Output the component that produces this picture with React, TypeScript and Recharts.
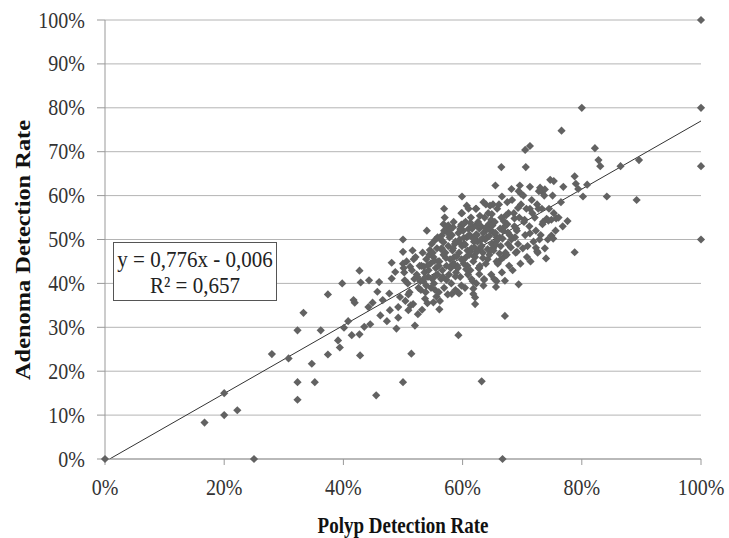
import React from 'react'
import { ScatterChart, Scatter, XAxis, YAxis, CartesianGrid, ReferenceLine } from 'recharts'

// Polyp detection rate (x, %) vs adenoma detection rate (y, %), one pair per endoscopist
const sparseLow: [number, number][] = [
  [0, 0], [16.7, 8.3], [20, 10], [22.2, 11.1], [20, 15], [25, 0], [28, 23.9], [30.8, 22.9],
  [32.3, 17.5], [32.3, 13.5], [32.3, 29.3], [33.3, 33.3], [34.7, 21.7], [35.2, 17.5], [36.2, 29.3],
  [37.4, 37.5], [37.4, 23.8], [39.1, 27], [39.4, 25.4], [39.8, 40], [40.1, 29.9], [40.8, 31.4],
  [41.4, 28.2], [41.7, 36.2], [41.9, 35.6], [42.7, 42.9], [42.9, 40.2], [42.7, 28.4], [42.8, 23.6],
  [43.5, 30.1], [44.3, 40.7], [44.5, 30.7], [44.2, 34.6], [44.9, 35.6], [45.5, 14.5], [45.7, 38.1],
  [46, 40.3], [46.2, 32.7], [46.6, 36.2], [47.3, 31.4], [47.7, 37.7], [47.8, 33.9], [48.1, 44.7],
  [48.1, 41.1], [48.7, 42.6], [48.9, 29.7], [49.2, 32.2], [49.2, 34.6], [49.5, 36.9], [50, 50],
  [50, 47.2], [50, 44.5], [50, 17.5], [50.3, 40.7], [50.9, 33.9], [51.2, 43.8], [51.4, 24],
  [52, 30.4], [63.2, 17.7], [66.7, 0], [59.3, 28.2], [51.7, 35.3], [56.1, 34.1], [55.1, 35.7],
  [62.1, 35.3], [61.8, 37.6], [63.5, 39.5], [65.6, 39.2], [58.2, 37.6], [59.4, 37.7], [62.8, 42.1],
]

const sparseHigh: [number, number][] = [
  [100, 100], [100, 80], [80, 80], [76.6, 74.8], [70.5, 70.4], [71.3, 71.3], [82.2, 70.8],
  [82.8, 68.1], [83.1, 66.7], [86.5, 66.7], [89.6, 68.1], [100, 66.7], [66.5, 66.5], [70.6, 66.5],
  [65.5, 62.3], [68.2, 61.5], [69.6, 62.3], [69.8, 60.4], [73, 61.8], [73.3, 60.9], [73.8, 61.4],
  [74.7, 63.6], [75.3, 63.3], [78.8, 64.4], [79, 62.7], [79.4, 61.5], [80.9, 62.5], [80.2, 59.8],
  [84.2, 59.8], [89.2, 59], [59.9, 59.8], [60.7, 57.7], [62.3, 57], [63.5, 58.5], [65.1, 58],
  [66.6, 59.8], [67.5, 58.5], [71.3, 57], [72.7, 57], [74.1, 54.7], [74.4, 54.3], [75.7, 54.8],
  [77.6, 54.2], [74.9, 50.9], [75.2, 50.2], [78.8, 47.1], [100, 50], [72.3, 48.1], [72.5, 47.3],
  [74, 45.7], [71.3, 51.4], [69.1, 47.2], [66.3, 45.3], [62.8, 43.5], [63.6, 40.8], [65.7, 40.5],
  [67.1, 40.6], [69.4, 39.8], [61.8, 38.8], [62.1, 36.8], [67.1, 32.6],
  [56.9, 57], [59.8, 56], [64.6, 57.7], [64.9, 55.8], [56.8, 53.5], [57.6, 53.2], [58.4, 52.8],
  [59.8, 53.4], [55.4, 49.9], [56.5, 50.9], [61, 52.4], [62.4, 53.5], [64, 52.8], [65.2, 51.6],
  [65.7, 50.5],
]

const cluster50: [number, number][] = [
  [50.4, 36], [51.1, 38], [52.6, 39], [50.8, 40], [51.9, 41], [52.3, 42], [50.2, 42.5], [51.5, 43],
  [52.8, 44], [50.6, 45], [51.8, 45.5], [52.1, 46], [53.0, 38.5], [51.3, 35], [52.5, 33], [50.9, 37.5],
  [52.9, 40.5], [51.6, 47.5], [50.1, 43.5], [52.4, 41.5],
  [53.2, 34], [54.1, 35.5], [55.6, 37], [53.8, 38], [54.7, 39], [55.2, 40], [53.4, 40.5], [54.9, 41],
  [55.8, 42], [53.6, 42.5], [54.3, 43], [55.5, 43.5], [53.1, 44], [54.6, 44.5], [55.9, 45], [53.9, 45.5],
  [55.1, 46], [54.4, 46.5], [53.3, 47], [55.7, 48], [54.8, 49], [53.7, 36.5], [55.4, 38.5], [54.2, 41.5],
  [53.5, 43.8], [55.3, 45.2], [54.5, 47.6], [55.8, 50.5], [54.0, 52], [53.9, 39.5],
  [56.2, 36], [57.5, 37.5], [58.8, 38.5], [56.9, 39], [58.1, 40], [56.4, 41], [57.7, 42], [58.9, 42.5],
  [56.6, 43], [57.3, 44], [58.4, 44.5], [56.1, 45], [57.9, 45.5], [58.6, 46], [56.8, 46.5], [57.1, 47],
  [58.3, 47.5], [56.5, 48], [57.6, 48.5], [58.7, 49], [56.3, 50], [57.8, 50.5], [58.2, 51], [56.9, 52],
  [57.4, 53], [58.5, 54], [57.0, 55], [56.7, 41.5], [58.0, 43.5], [57.2, 45.8], [56.4, 47.8], [58.8, 49.5],
  [57.5, 51.5], [56.0, 38], [58.6, 44.2],
  [54.2, 44.2], [55.0, 47.0], [56.0, 44.0], [56.8, 49.4], [57.9, 52.2], [58.4, 48.0], [53.6, 41.2],
  [55.5, 41.8], [57.3, 40.8], [58.8, 41.6],
]

const cluster60: [number, number][] = [
  [59.2, 38], [60.4, 39], [61.7, 40.5], [59.6, 41.5], [60.9, 42], [61.3, 43], [59.1, 44], [60.2, 44.5],
  [61.8, 45], [59.8, 45.5], [60.6, 46], [61.1, 46.5], [59.4, 47], [60.8, 47.5], [61.5, 48], [59.9, 48.5],
  [60.3, 49], [61.9, 49.5], [59.5, 50], [60.7, 50.5], [61.2, 51], [59.3, 51.5], [60.1, 52], [61.6, 52.5],
  [59.7, 53], [60.5, 54], [61.4, 55], [59.9, 56], [61.0, 57], [60.0, 45.2], [61.3, 47.2], [59.6, 49.2],
  [60.9, 50.8], [61.7, 52.8], [59.2, 43.5], [60.4, 48.8], [61.9, 46.2], [60.2, 53.6], [61.5, 41], [59.8, 39.5],
  [62.3, 40], [63.6, 41], [64.8, 42], [62.7, 43.5], [63.9, 44.5], [64.2, 45.5], [62.1, 46], [63.4, 47],
  [64.6, 47.5], [62.9, 48], [63.2, 48.5], [64.9, 49], [62.5, 49.5], [63.8, 50], [64.1, 50.5], [62.4, 51],
  [63.5, 51.5], [64.7, 52], [62.8, 52.5], [63.1, 53], [64.4, 53.5], [62.6, 54], [63.7, 55], [64.3, 56],
  [62.2, 57], [63.9, 58], [64.5, 46.5], [62.0, 48.2], [63.3, 50.2], [64.0, 52.2], [62.9, 44], [64.8, 54.5],
  [63.0, 49.8], [62.3, 51.2], [64.2, 47.8],
  [59.0, 46.2], [59.6, 52.4], [60.2, 50.4], [60.8, 44.0], [61.3, 53.8], [61.8, 50.2], [62.4, 47.2],
  [62.9, 55.4], [63.4, 45.8], [63.9, 52.6], [64.5, 50.8], [60.6, 43.2],
]

const cluster70: [number, number][] = [
  [65.3, 41], [66.6, 42.5], [67.8, 44], [65.7, 45], [66.9, 46], [67.2, 47], [65.1, 48], [66.4, 48.5],
  [67.6, 49], [65.9, 50], [66.2, 50.5], [67.9, 51], [65.5, 51.5], [66.8, 52], [67.1, 53], [65.4, 54],
  [66.5, 55], [67.7, 56], [65.8, 57], [66.1, 58], [67.4, 46.5], [65.6, 49.5], [66.3, 52.5], [67.5, 53.5],
  [65.2, 47.5], [66.7, 50.2], [67.3, 55.5], [65.9, 44.5],
  [65.0, 53.2], [65.6, 48.8], [66.2, 46.8], [66.9, 54.2], [67.6, 51.6],
  [68.4, 43], [69.7, 44.5], [70.8, 46], [68.9, 47], [70.1, 48], [69.3, 49], [68.2, 50], [70.5, 51],
  [69.1, 52], [68.7, 53], [70.3, 54], [69.5, 55], [68.6, 56], [70.7, 57], [69.8, 58], [68.3, 59],
  [70.2, 60], [69.4, 61], [68.8, 50.5], [70.9, 48.5], [69.0, 52.5], [70.4, 54.5],
  [68.1, 48.2], [68.7, 54.8], [69.3, 57.2],
  [71.4, 45], [72.6, 47], [73.8, 48], [71.9, 49.5], [73.1, 51], [72.3, 52], [71.2, 53], [73.5, 54],
  [72.1, 55], [71.7, 56], [73.3, 57], [72.5, 58], [71.6, 59], [73.7, 60], [72.8, 61], [71.3, 62],
  [72.9, 50], [73.4, 53.5],
  [74.3, 50], [75.6, 52], [76.8, 53], [74.9, 54.5], [76.1, 55], [75.3, 56], [74.5, 57], [76.5, 58.5],
  [75.1, 60], [76.9, 62],
]

const yTicks = [0, 10, 20, 30, 40, 50, 60, 70, 80, 90, 100]
const xTicks = [0, 20, 40, 60, 80, 100]

// linear trend: y = 0,776x - 0,006
const slope = 0.776
const intercept = -0.6

const points = [...sparseLow, ...sparseHigh, ...cluster50, ...cluster60, ...cluster70].map(([pdr, adr]) => ({ pdr, adr }))

const FONT = '"Liberation Serif", "Times New Roman", serif'
const STRETCH = 1.17 // source image text is tall and narrow

const Diamond = (props: any) => {
  const { cx, cy } = props
  const r = 4.1
  return (
    <polygon
      points={`${cx},${cy - r} ${cx + r},${cy} ${cx},${cy + r} ${cx - r},${cy}`}
      fill="#626262"
    />
  )
}

const YTick = (props: any) => {
  const { x, y, payload } = props
  return (
    <text
      transform={`translate(${x - 10}, ${y}) scale(1, ${STRETCH})`}
      textAnchor="end"
      dominantBaseline="central"
      fontFamily={FONT}
      fontSize={20}
      fill="#333"
    >
      {payload.value}%
    </text>
  )
}

const XTick = (props: any) => {
  const { x, y, payload } = props
  return (
    <text
      transform={`translate(${x}, ${y + 20}) scale(1, ${STRETCH})`}
      textAnchor="middle"
      dominantBaseline="central"
      fontFamily={FONT}
      fontSize={20}
      fill="#333"
    >
      {payload.value}%
    </text>
  )
}

const XTitle = (props: any) => {
  const vb = props.viewBox || { x: 105, width: 596 }
  const cx = vb.x + vb.width / 2
  return (
    <text
      transform={`translate(${cx}, 525) scale(1, 1.2)`}
      textAnchor="middle"
      dominantBaseline="central"
      fontFamily={FONT}
      fontWeight="bold"
      fontSize={19}
      fill="#111"
    >
      Polyp Detection Rate
    </text>
  )
}

const YTitle = () => (
  <text
    transform={`translate(23, 250) scale(1, 1.22) rotate(-90)`}
    textAnchor="middle"
    dominantBaseline="central"
    fontFamily={FONT}
    fontWeight="bold"
    fontSize={20}
    fill="#111"
  >
    Adenoma Detection Rate
  </text>
)

export default function App() {
  return (
    <div style={{ position: 'absolute', left: 0, top: 0, width: 729, height: 538, background: '#fff' }}>
      <ScatterChart width={729} height={538} margin={{ top: 20, right: 28, bottom: 0, left: 0 }}>
        <CartesianGrid horizontal vertical={false} stroke="#b4b4b4" />
        <XAxis
          type="number"
          dataKey="pdr"
          domain={[0, 100]}
          ticks={xTicks}
          height={79}
          tickSize={6}
          stroke="#999"
          tick={XTick}
          label={{ content: XTitle }}
        />
        <YAxis
          type="number"
          dataKey="adr"
          domain={[0, 100]}
          ticks={yTicks}
          width={105}
          tickSize={8}
          stroke="#999"
          tick={YTick}
          label={{ content: YTitle }}
        />
        <ReferenceLine
          segment={[
            { x: -intercept / slope, y: 0 },
            { x: 100, y: slope * 100 + intercept },
          ]}
          stroke="#333"
          strokeWidth={1}
        />
        <Scatter data={points} shape={Diamond} isAnimationActive={false} />
      </ScatterChart>
      <div
        style={{
          position: 'absolute',
          left: 113,
          top: 242,
          width: 164,
          height: 59,
          border: '1px solid #555',
          background: '#fff',
          fontFamily: FONT,
          fontSize: 21,
          color: '#222',
          textAlign: 'center',
          lineHeight: '26px',
          boxSizing: 'border-box',
          paddingTop: 3,
        }}
      >
        <div style={{ transform: 'scaleY(1.12)' }}>y = 0,776x - 0,006</div>
        <div style={{ transform: 'scaleY(1.12)' }}>R² = 0,657</div>
      </div>
    </div>
  )
}
